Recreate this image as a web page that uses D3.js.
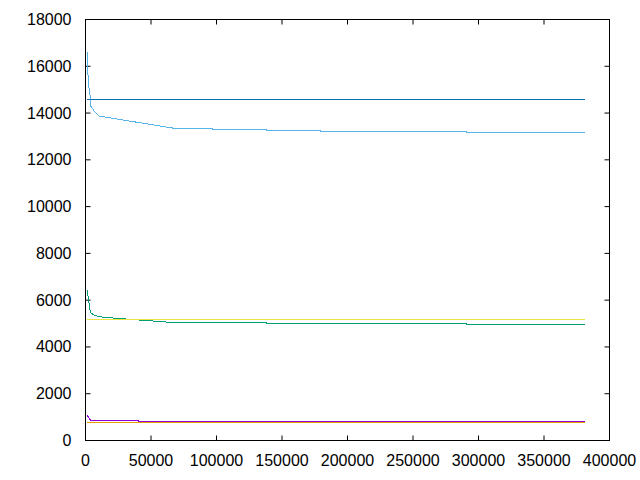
<!DOCTYPE html>
<html>
<head>
<meta charset="utf-8">
<script src="https://cdn.jsdelivr.net/npm/d3@7"></script>
<style>
  html, body { margin: 0; padding: 0; background: #fff; }
  svg { display: block; }
  text { font-family: "Liberation Sans", Arial, sans-serif; font-size: 16px; fill: #000; }
</style>
</head>
<body>
<svg id="chart" width="640" height="480"></svg>
<script>
// ---- data ----
const xTicks = [0, 50000, 100000, 150000, 200000, 250000, 300000, 350000, 400000];
const yTicks = [0, 2000, 4000, 6000, 8000, 10000, 12000, 14000, 16000, 18000];

const purpleX = [1400, 2200, 3200, 4200, 40000, 40400, 381000];
const purpleY = [1080, 1000, 920, 862, 862, 830, 830];

const greenX = [1400, 2100, 2900, 3600, 4500, 6400, 9000, 13000, 64000, 137800, 138200, 290500, 290900, 381000];
const greenY = [6430, 6080, 5800, 5510, 5440, 5366, 5320, 5272, 5055, 5055, 5011, 5011, 4960, 4960];

const lightBlueX = [1400, 2100, 2300, 3300, 4000, 6500, 10300, 67600, 96600, 97000, 137800, 138200, 179000, 179400, 290500, 290900, 381000];
const lightBlueY = [16600, 15300, 15200, 14900, 14300, 14100, 13870, 13350, 13350, 13305, 13305, 13262, 13262, 13220, 13220, 13177, 13177];

const orangeX = [1400, 381000];
const orangeY = [780, 780];

const yellowX = [1400, 381000];
const yellowY = [5182, 5182];

const darkBlueX = [1400, 381000];
const darkBlueY = [14588, 14588];

const seriesNames = ["purple", "green", "lightblue", "orange", "yellow", "darkblue"];
const seriesColors = ["#9400d3", "#009e73", "#56b4e9", "#e69f00", "#f0e442", "#0072b2"];

// ---- layout ----
const svg = d3.select("#chart");
const plotL = 85.5, plotR = 609.5, plotT = 19.5, plotB = 440.5;

const x = d3.scaleLinear().domain([0, 400000]).range([plotL, plotR]);
const y = d3.scaleLinear().domain([0, 18000]).range([plotB, plotT]);

const seriesData = [
  [purpleX, purpleY],
  [greenX, greenY],
  [lightBlueX, lightBlueY],
  [orangeX, orangeY],
  [yellowX, yellowY],
  [darkBlueX, darkBlueY]
].map(([xs, ys]) => xs.map((v, i) => [v, ys[i]]));

const tickLen = 5;

// ticks (inward, mirrored)
const g = svg.append("g");
xTicks.forEach(t => {
  g.append("line").attr("x1", x(t)).attr("x2", x(t)).attr("y1", plotB).attr("y2", plotB - tickLen).attr("stroke", "#000");
  g.append("line").attr("x1", x(t)).attr("x2", x(t)).attr("y1", plotT).attr("y2", plotT + tickLen).attr("stroke", "#000");
  g.append("text").attr("x", x(t)).attr("y", 460).attr("text-anchor", "middle").attr("dominant-baseline", "central").text(t);
});
yTicks.forEach(t => {
  g.append("line").attr("x1", plotL).attr("x2", plotL + tickLen).attr("y1", y(t)).attr("y2", y(t)).attr("stroke", "#000");
  g.append("line").attr("x1", plotR).attr("x2", plotR - tickLen).attr("y1", y(t)).attr("y2", y(t)).attr("stroke", "#000");
  g.append("text").attr("x", 71.5).attr("y", y(t)).attr("text-anchor", "end").attr("dominant-baseline", "central").text(t);
});

// series lines
const line = d3.line().x(d => x(d[0])).y(d => y(d[1]));
seriesData.forEach((d, i) => {
  svg.append("path").datum(d)
    .attr("class", seriesNames[i])
    .attr("fill", "none")
    .attr("stroke", seriesColors[i])
    .attr("stroke-width", 1)
    .attr("shape-rendering", "crispEdges")
    .attr("d", line);
});

// border
svg.append("rect").attr("x", plotL).attr("y", plotT).attr("width", plotR - plotL).attr("height", plotB - plotT)
  .attr("fill", "none").attr("stroke", "#000").attr("stroke-width", 1);
</script>
</body>
</html>
